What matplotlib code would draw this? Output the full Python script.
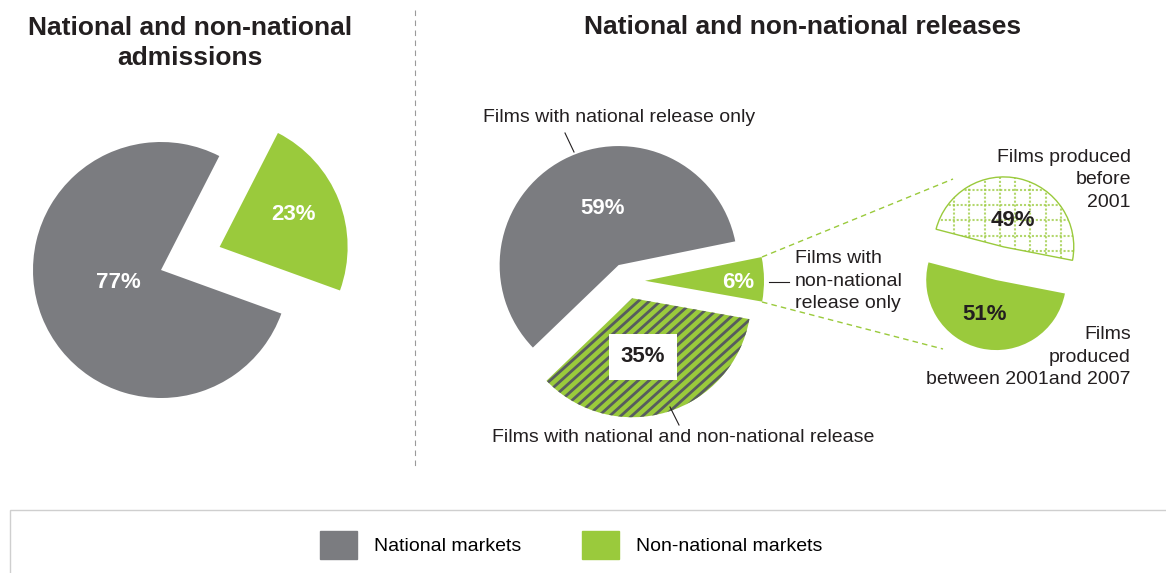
import numpy as np
import matplotlib.pyplot as plt
from matplotlib.patches import Patch, Rectangle
from matplotlib.collections import LineCollection

plt.rcParams['font.family'] = ['Liberation Sans', 'DejaVu Sans']

GRAY = '#7b7c80'
GREEN = '#9aca3c'
STRIPE = '#575c5e'
TEXT = '#231f20'

# data
admissions_labels = ['Non-national markets', 'National markets']
admissions_share = [23, 77]

release_labels = ['Films with\nnon-national\nrelease only',
                  'Films with national release only',
                  'Films with national and non-national release']
release_share = [6, 59, 35]

nonnat_labels = ['Films produced\nbefore\n2001',
                 'Films\nproduced\nbetween 2001and 2007']
nonnat_share = [49, 51]

legend_labels = ['National markets', 'Non-national markets']

W, H = 1166, 573
fig = plt.figure(figsize=(W / 100, H / 100), dpi=100)
ax = fig.add_axes([0, 0, 1, 1])


def Y(y):
    # pixel row (from top) -> data y (from bottom)
    return H - y


# left pie: admissions
w1, _ = ax.pie(admissions_share, colors=[GREEN, GRAY], startangle=-19.9,
               center=(161, Y(270)), radius=128, explode=[63, 0], frame=True)

# right pie: releases
w2, _ = ax.pie(release_share, colors=[GREEN, GRAY, GREEN], startangle=-10.1,
               center=(627, Y(281)), radius=119, explode=[18, 18, 18], frame=True)

# stripes on the "national and non-national" slice
k = 0.9
segs = [[(500, 500 * k + c), (780, 780 * k + c)] for c in np.arange(-560, -120, 11 * k)]
stripes = LineCollection(segs, colors=STRIPE, linewidths=2.0, zorder=2)
ax.add_collection(stripes)
stripes.set_clip_path(w2[2])

# small pie: non-national releases by production year
w3, _ = ax.pie(nonnat_share, colors=['white', GREEN], startangle=-11.05,
               center=(1000, Y(263.5)), radius=70, explode=[17, 17], frame=True)
w3[0].set_edgecolor(GREEN)
w3[0].set_linewidth(1.0)

gx = np.arange(954, 1080, 15.3)
gy = np.arange(190, 265, 15.2)
vl = ax.vlines(gx, Y(270), Y(170), colors=GREEN, linewidth=1.5,
               linestyles=(0, (1, 0.9)), alpha=0.75, zorder=2)
hl = ax.hlines(Y(gy), 925, 1080, colors=GREEN, linewidth=1.5,
               linestyles=(0, (1, 0.9)), alpha=0.75, zorder=2)
vl.set_clip_path(w3[0])
hl.set_clip_path(w3[0])

# dashed connectors from the 6% slice to the small pie
ax.plot([762, 953], [Y(257), Y(179)], color=GREEN, lw=1, ls=(0, (4, 3)))
ax.plot([762, 943], [Y(302), Y(349)], color=GREEN, lw=1, ls=(0, (4, 3)))

# leader lines
ax.plot([565, 574], [Y(133), Y(152)], color=TEXT, lw=0.8)
ax.plot([670, 679], [Y(407), Y(425)], color=TEXT, lw=0.8)
ax.plot([769, 789], [Y(282), Y(282)], color=TEXT, lw=0.8)

# separator
ax.plot([415, 415], [Y(10), Y(468)], color='#9a9a9a', lw=0.8, ls=(0, (5, 4)))

# titles
ax.text(190, Y(43), 'National and non-national\nadmissions', ha='center', va='center',
        fontsize=19, fontweight='bold', color=TEXT, linespacing=1.3)
ax.text(803, Y(27), 'National and non-national releases', ha='center', va='center',
        fontsize=19, fontweight='bold', color=TEXT)

# percentage labels
pct = dict(fontsize=16, fontweight='bold', ha='center', va='center')
ax.text(118, Y(283), f'{admissions_share[1]}%', color='white', **pct)
ax.text(293, Y(214), f'{admissions_share[0]}%', color='white', **pct)
ax.text(603, Y(208), f'{release_share[1]}%', color='white', **pct)
ax.text(738, Y(282), f'{release_share[0]}%', color='white', **pct)
ax.text(643, Y(357), f'{release_share[2]}%', color=TEXT,
        bbox=dict(boxstyle='square,pad=0.55', facecolor='white', edgecolor='none'), **pct)
ax.text(1013, Y(220), f'{nonnat_share[0]}%', color=TEXT, **pct)
ax.text(985, Y(315), f'{nonnat_share[1]}%', color=TEXT, **pct)

# category labels
lab = dict(fontsize=14, color=TEXT)
ax.text(619, Y(117), release_labels[1], ha='center', va='center', **lab)
ax.text(683, Y(438), release_labels[2], ha='center', va='center', **lab)
ax.text(795, Y(281), release_labels[0], ha='left', va='center', linespacing=1.42, **lab)
ax.text(1131, Y(180), nonnat_labels[0], ha='right', va='center', linespacing=1.45, **lab)
ax.text(1131, Y(357), nonnat_labels[1], ha='right', va='center', linespacing=1.42, **lab)

# legend
ax.add_patch(Rectangle((10, -5), 1170, Y(510) + 5, facecolor='none',
                       edgecolor='#cfcfcf', lw=1))
handles = [Patch(color=GRAY, label=legend_labels[0]),
           Patch(color=GREEN, label=legend_labels[1])]
ax.legend(handles=handles, loc='center', bbox_to_anchor=(571 / W, Y(545) / H),
          ncol=2, frameon=False, fontsize=14, handlelength=1.9, handleheight=1.8,
          handletextpad=0.9, columnspacing=3.1)

ax.set_xlim(0, W)
ax.set_ylim(0, H)
ax.axis('off')

fig.savefig('out.png', dpi=100)
